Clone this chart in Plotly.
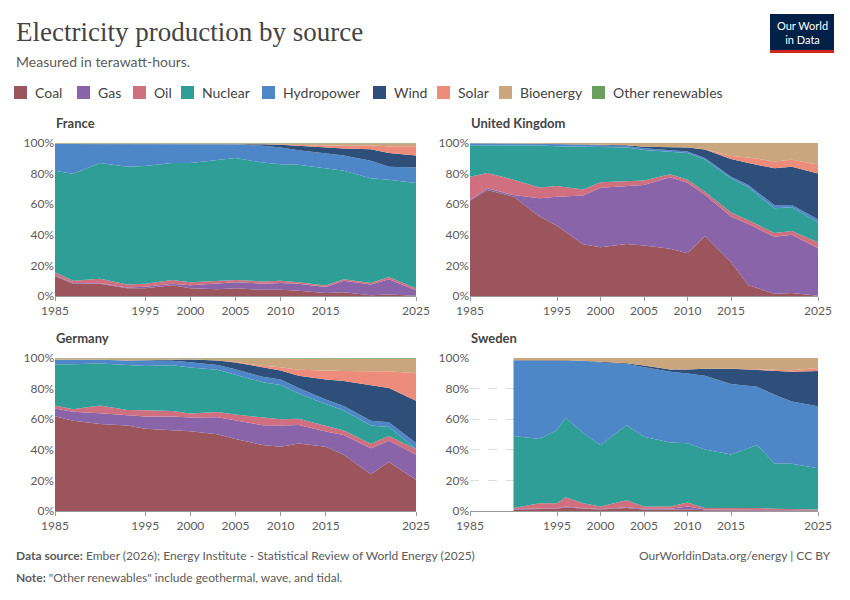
import plotly.graph_objects as go
from plotly.subplots import make_subplots

# data: share of electricity by source (%)
sources = ['Coal', 'Gas', 'Oil', 'Nuclear', 'Hydropower', 'Wind', 'Solar', 'Bioenergy', 'Other renewables']
colors = ['#9C555C', '#8A64A8', '#D06F80', '#2F9E96', '#4E87C8', '#2E4F7A', '#EE8C7C', '#C9A67D', '#6A9F5E']

years = [1985, 1987, 1990, 1993, 1995, 1998, 2000, 2003, 2005, 2008, 2010, 2012, 2015, 2017, 2020, 2022, 2025]
years_se = [1990, 1993, 1995, 1996, 1998, 2000, 2003, 2005, 2008, 2010, 2012, 2015, 2018, 2020, 2022, 2025]

france = {
    'Coal': [13, 8, 8, 5, 5, 7, 5, 4.5, 5, 4, 4, 3.5, 2, 2.5, 0.5, 1, 0.2],
    'Gas': [0.5, 0.5, 0.3, 0.5, 1, 1, 2, 4, 4, 4, 4.5, 4.5, 4, 7.5, 7, 10, 3.5],
    'Oil': [2, 1.5, 3, 2, 2, 2.5, 2, 1.5, 1.5, 1.5, 1.5, 1, 1, 1, 1, 1.5, 1.3],
    'Nuclear': [66.5, 70, 76, 77, 77, 76.5, 78, 79, 79.5, 77.5, 76, 77, 77, 71, 68.5, 63.5, 69],
    'Hydropower': [17.5, 19.5, 12.5, 15, 14.5, 12.5, 12.5, 10.5, 9, 11, 11, 9.5, 10, 10, 11.5, 8.5, 10],
    'Wind': [0, 0, 0, 0, 0, 0, 0, 0.1, 0.2, 1, 1.7, 2.8, 4, 4.5, 7.5, 9, 8],
    'Solar': [0, 0, 0, 0, 0, 0, 0, 0, 0, 0, 0.1, 0.7, 1.4, 1.8, 2.5, 4.5, 6],
    'Bioenergy': [0.5, 0.5, 0.5, 0.5, 0.5, 0.5, 0.5, 0.5, 0.5, 0.7, 1, 1.2, 1.5, 1.7, 1.5, 2, 2],
    'Other renewables': [0.1] * 17,
}
uk = {
    'Coal': [62, 69, 65, 52, 46, 34, 32, 34, 33, 31, 28, 39, 22, 7, 1.5, 2, 0.2],
    'Gas': [0.5, 1, 1, 12, 19, 32, 39, 38, 39.5, 47, 46, 27, 30, 40, 37, 38, 31],
    'Oil': [15, 10, 10, 7, 7, 4, 3.5, 3, 3, 2, 2, 2, 2.5, 2.5, 2.5, 2.5, 4],
    'Nuclear': [20.5, 18, 22.5, 27.5, 26, 28, 23, 22, 20, 15, 17.5, 21, 22.5, 21.5, 16, 15.5, 13],
    'Hydropower': [1.3, 1.3, 1.2, 1.2, 1.3, 1.3, 1.3, 1, 1, 1, 1, 1, 1, 1.5, 2, 1.5, 2],
    'Wind': [0, 0, 0, 0, 0.1, 0.2, 0.3, 0.5, 1, 1.5, 2.5, 5.5, 11.5, 14.5, 24, 25, 30],
    'Solar': [0, 0, 0, 0, 0, 0, 0, 0, 0, 0, 0, 0.3, 2, 3.5, 4.5, 4.5, 6],
    'Bioenergy': [0.2, 0.2, 0.3, 0.5, 0.7, 1, 1.2, 1.5, 2.5, 3, 3, 4, 8.5, 9.5, 12, 11, 14],
    'Other renewables': [0] * 17,
}
germany = {
    'Coal': [62, 59, 57, 56, 54, 53, 52, 50, 47, 43, 42, 44, 42, 37, 24, 32, 20.5],
    'Gas': [5, 6, 7, 7, 8, 9, 9, 11, 12, 13, 14, 12, 10, 13, 17, 14, 16.5],
    'Oil': [2, 1.5, 5, 3, 4, 3.5, 2.5, 3.5, 4, 5, 4, 4, 4, 3, 3, 3, 3.5],
    'Nuclear': [27, 29.5, 27.5, 29.5, 29, 30, 30, 27.5, 26, 23, 22.5, 16.5, 14, 13, 12, 6, 0],
    'Hydropower': [3, 3, 2.5, 3, 3.5, 3, 3.5, 3, 3.5, 3.5, 3.5, 3.5, 3, 3, 3, 3, 4],
    'Wind': [0, 0, 0, 0, 0.2, 0.7, 1.8, 3, 4.5, 6.5, 6, 8, 13, 16.5, 23.5, 22.5, 27.5],
    'Solar': [0, 0, 0, 0, 0, 0, 0, 0, 0.3, 0.7, 2, 4, 6, 6.5, 9, 11, 18],
    'Bioenergy': [1, 1, 1, 1.5, 1.5, 1, 0.8, 1.5, 2.5, 5, 6, 7.5, 8, 8.5, 8.5, 8.5, 9.5],
    'Other renewables': [0.1] * 16 + [0.5],
}
sweden = {
    'Coal': [1, 1.5, 1.5, 2.5, 1.5, 1, 2, 1, 1, 1, 0.5, 0.5, 0.5, 0.5, 0.5, 0.3],
    'Gas': [0.3, 0.3, 0.3, 0.5, 0.3, 0.3, 0.5, 0.5, 0.5, 2, 0.5, 0.3, 0.3, 0.2, 0.2, 0.2],
    'Oil': [0.7, 3.2, 3.2, 6, 3.2, 1.7, 4.5, 1.5, 1.5, 2.5, 1, 1.2, 1.2, 0.8, 0.8, 0.5],
    'Nuclear': [47, 42, 48, 52, 46, 40, 49, 46, 42, 38.5, 38, 35, 41, 29.5, 29.5, 27],
    'Hydropower': [49.5, 51.5, 45.5, 37.5, 47, 54, 40, 46, 46.5, 45.5, 48, 46, 38, 45, 41, 40.5],
    'Wind': [0, 0, 0, 0, 0.2, 0.5, 0.5, 1, 1.5, 2.5, 4.5, 10, 11, 16, 19.5, 23],
    'Solar': [0] * 12 + [0.2, 0.5, 1, 2],
    'Bioenergy': [1.5, 1.5, 1.5, 1.5, 1.8, 2.5, 3.5, 5, 7.5, 7.5, 7, 7, 7.5, 7.5, 8, 6.5],
    'Other renewables': [0] * 16,
}

panels = [('France', years, france, 1, 1), ('United Kingdom', years, uk, 1, 2),
          ('Germany', years, germany, 2, 1), ('Sweden', years_se, sweden, 2, 2)]

fig = make_subplots(rows=2, cols=2)
for i, (name, yrs, d, r, c) in enumerate(panels):
    for s, col in zip(sources, colors):
        fig.add_trace(go.Scatter(x=yrs, y=d[s], name=s, stackgroup='g%d' % i, groupnorm='percent',
                                 mode='lines', line=dict(width=0, color=col), fillcolor=col,
                                 showlegend=False, hoverinfo='skip'), row=r, col=c)

gray = '#5b5b5b'
L, W, B, H = 55, 763, 89, 368   # plot area in pixels


def px(x):
    return (x - L) / W


def py(y):
    return (600 - B - y) / H


xdom = [[0, px(416)], [px(470), 1.0]]
ydom = [[py(296), 1.0], [0, py(358)]]
yt = [0, 20, 40, 60, 80, 100]
for i, (name, yrs, d, r, c) in enumerate(panels):
    fig.update_xaxes(domain=xdom[c - 1], range=[1985, 2025], tickvals=[1985, 1995, 2000, 2005, 2010, 2015, 2025],
                     showgrid=False, ticks='outside', ticklen=4, tickcolor='#999', showline=True, linecolor='#999',
                     tickfont=dict(color=gray, size=12), row=r, col=c)
    fig.update_yaxes(domain=ydom[r - 1], range=[0, 100], tickvals=yt, ticktext=['%d%%' % v for v in yt],
                     gridcolor='#ddd', griddash='dash', zeroline=False, tickfont=dict(color=gray, size=12),
                     row=r, col=c)
    fig.add_annotation(text='<b>%s</b>' % name, xref='paper', yref='paper', x=xdom[c - 1][0] - 0.001,
                       y=ydom[r - 1][1] + 0.055, xanchor='left', yanchor='middle', showarrow=False,
                       font=dict(size=13, color='#444'))

# legend drawn by hand so it stays on one row
leg_x = [14, 77, 133, 181, 262, 373, 437, 499, 592]
for s, col, lx in zip(sources, colors, leg_x):
    fig.add_shape(type='rect', xref='paper', yref='paper', x0=px(lx), x1=px(lx + 13),
                  y0=py(99), y1=py(86), fillcolor=col, line_width=0)
    fig.add_annotation(text=s, xref='paper', yref='paper', x=px(lx + 19), y=py(92.5), xanchor='left',
                       yanchor='middle', showarrow=False, font=dict(size=14, color='#444'))

fig.add_annotation(text='Electricity production by source', xref='paper', yref='paper', x=px(14), y=py(32),
                   xanchor='left', yanchor='middle', showarrow=False,
                   font=dict(family='Liberation Serif', size=27, color='#444'))
fig.add_annotation(text='Measured in terawatt-hours.', xref='paper', yref='paper', x=px(14), y=py(61),
                   xanchor='left', yanchor='middle', showarrow=False, font=dict(size=14, color=gray))
fig.add_annotation(text='<b>Data source:</b> Ember (2026); Energy Institute - Statistical Review of World Energy (2025)',
                   xref='paper', yref='paper', x=px(14), y=py(555), xanchor='left', yanchor='middle',
                   showarrow=False, font=dict(size=12, color=gray))
fig.add_annotation(text='<b>Note:</b> "Other renewables" include geothermal, wave, and tidal.',
                   xref='paper', yref='paper', x=px(14), y=py(577), xanchor='left', yanchor='middle',
                   showarrow=False, font=dict(size=12, color=gray))
fig.add_annotation(text='OurWorldinData.org/energy | CC BY', xref='paper', yref='paper', x=px(833), y=py(555),
                   xanchor='right', yanchor='middle', showarrow=False, font=dict(size=12, color=gray))
# logo
fig.add_shape(type='rect', xref='paper', yref='paper', x0=px(770), x1=px(834), y0=py(50), y1=py(14),
              fillcolor='#002147', line_width=0)
fig.add_shape(type='rect', xref='paper', yref='paper', x0=px(770), x1=px(834), y0=py(53), y1=py(50),
              fillcolor='#CE261E', line_width=0)
fig.add_annotation(text='Our World<br>in Data', xref='paper', yref='paper', x=px(802), y=py(32),
                   xanchor='center', yanchor='middle', align='center', showarrow=False,
                   font=dict(size=11, color='white'))

fig.update_layout(width=850, height=600, plot_bgcolor='white', paper_bgcolor='white',
                  margin=dict(l=L, r=850 - L - W, t=600 - B - H, b=B, autoexpand=False),
                  font=dict(family='Lato', color=gray), showlegend=False)
fig.write_html('out.html', config={'displayModeBar': False},
               post_script="document.body.style.margin='0';")
